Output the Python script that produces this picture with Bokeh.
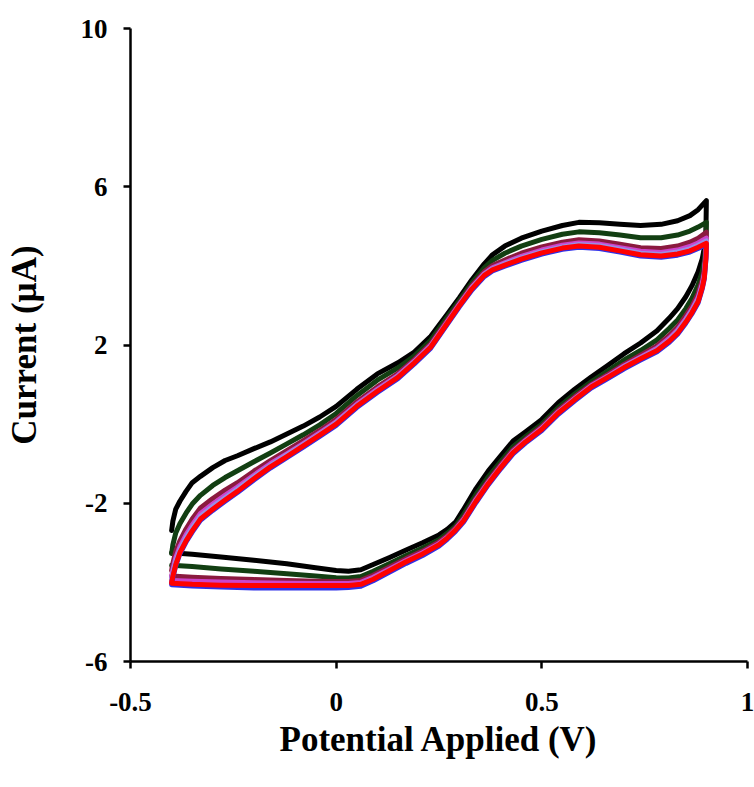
from bokeh.plotting import figure
from bokeh.models import Range1d, FixedTicker
from bokeh.embed import file_html
from bokeh.resources import INLINE

# Potential (V) for the anodic (forward) and cathodic (reverse) sweeps
potential_fwd = [-0.40, -0.397, -0.39, -0.38, -0.365, -0.35, -0.33, -0.30, -0.27, -0.24,
                 -0.20, -0.16, -0.12, -0.08, -0.04, 0.0, 0.05, 0.10, 0.15, 0.19,
                 0.23, 0.27, 0.30, 0.33, 0.36, 0.38, 0.41, 0.45, 0.50, 0.55,
                 0.59, 0.64, 0.69, 0.74, 0.79, 0.83, 0.86, 0.88, 0.90]
potential_rev = [0.90, 0.899, 0.895, 0.89, 0.88, 0.865, 0.85, 0.83, 0.81, 0.78,
                 0.74, 0.70, 0.66, 0.62, 0.58, 0.54, 0.50, 0.46, 0.43, 0.40,
                 0.37, 0.34, 0.31, 0.29, 0.27, 0.25, 0.21, 0.17, 0.13, 0.09,
                 0.06, 0.03, 0.0, -0.05, -0.12, -0.20, -0.28, -0.35, -0.40]

# Current (uA) for each scan
black_fwd = [-2.69, -2.45, -2.15, -1.95, -1.70, -1.48, -1.32, -1.10, -0.92, -0.80,
             -0.62, -0.45, -0.25, -0.05, 0.18, 0.45, 0.88, 1.27, 1.55, 1.82,
             2.22, 2.78, 3.20, 3.65, 4.05, 4.28, 4.50, 4.70, 4.88, 5.02,
             5.10, 5.09, 5.05, 5.02, 5.05, 5.14, 5.27, 5.42, 5.65]
black_rev = [5.65, 4.90, 4.45, 4.18, 3.85, 3.50, 3.22, 2.92, 2.68, 2.36,
             2.05, 1.78, 1.48, 1.19, 0.88, 0.54, 0.12, -0.20, -0.43, -0.80,
             -1.18, -1.63, -2.15, -2.48, -2.66, -2.80, -3.00, -3.18, -3.37, -3.55,
             -3.68, -3.72, -3.70, -3.63, -3.53, -3.44, -3.36, -3.29, -3.25]

green_fwd = [-3.27, -3.05, -2.75, -2.52, -2.25, -2.02, -1.80, -1.55, -1.35, -1.18,
             -0.95, -0.73, -0.50, -0.27, -0.02, 0.27, 0.72, 1.11, 1.42, 1.72,
             2.12, 2.70, 3.13, 3.57, 3.95, 4.14, 4.32, 4.50, 4.67, 4.80,
             4.86, 4.84, 4.78, 4.71, 4.71, 4.78, 4.88, 4.98, 5.10]
green_rev = [5.10, 4.60, 4.12, 3.85, 3.52, 3.18, 2.92, 2.63, 2.42, 2.13,
             1.86, 1.62, 1.34, 1.07, 0.76, 0.42, 0.00, -0.32, -0.57, -0.95,
             -1.33, -1.78, -2.28, -2.58, -2.76, -2.92, -3.13, -3.32, -3.52, -3.72,
             -3.85, -3.89, -3.88, -3.84, -3.78, -3.72, -3.66, -3.60, -3.57]

maroon_fwd = [-3.70, -3.52, -3.22, -2.95, -2.65, -2.40, -2.12, -1.88, -1.67, -1.48,
              -1.19, -0.92, -0.67, -0.42, -0.16, 0.12, 0.56, 0.94, 1.28, 1.63,
              2.03, 2.62, 3.06, 3.50, 3.85, 4.01, 4.15, 4.32, 4.48, 4.60,
              4.66, 4.63, 4.55, 4.46, 4.44, 4.50, 4.60, 4.70, 4.85]
maroon_rev = [4.85, 4.40, 3.90, 3.64, 3.30, 2.98, 2.74, 2.45, 2.24, 1.98,
              1.74, 1.51, 1.25, 1.00, 0.69, 0.35, -0.06, -0.39, -0.65, -1.03,
              -1.43, -1.87, -2.37, -2.63, -2.82, -2.98, -3.21, -3.40, -3.61, -3.82,
              -3.95, -3.98, -3.98, -3.97, -3.95, -3.93, -3.90, -3.87, -3.84]

magenta_fwd = [-3.85, -3.68, -3.38, -3.10, -2.80, -2.55, -2.26, -2.02, -1.80, -1.59,
               -1.29, -1.00, -0.75, -0.49, -0.22, 0.06, 0.50, 0.88, 1.23, 1.59,
               1.99, 2.58, 3.03, 3.46, 3.80, 3.95, 4.08, 4.24, 4.40, 4.52,
               4.58, 4.55, 4.46, 4.37, 4.34, 4.40, 4.49, 4.58, 4.70]
magenta_rev = [4.70, 4.32, 3.80, 3.55, 3.20, 2.90, 2.66, 2.38, 2.17, 1.92,
               1.69, 1.47, 1.21, 0.97, 0.65, 0.31, -0.10, -0.42, -0.69, -1.07,
               -1.47, -1.91, -2.41, -2.66, -2.86, -3.02, -3.25, -3.45, -3.66, -3.87,
               -4.00, -4.03, -4.03, -4.03, -4.02, -4.01, -3.99, -3.97, -3.95]

lavender_fwd = [-3.92, -3.76, -3.46, -3.17, -2.87, -2.62, -2.33, -2.08, -1.86, -1.64,
                -1.33, -1.04, -0.78, -0.52, -0.25, 0.03, 0.47, 0.85, 1.20, 1.57,
                1.97, 2.56, 3.01, 3.44, 3.78, 3.92, 4.05, 4.20, 4.36, 4.48,
                4.54, 4.51, 4.42, 4.32, 4.29, 4.35, 4.43, 4.52, 4.63]
lavender_rev = [4.63, 4.26, 3.75, 3.50, 3.15, 2.86, 2.62, 2.34, 2.13, 1.89,
                1.67, 1.45, 1.19, 0.95, 0.63, 0.29, -0.12, -0.44, -0.71, -1.09,
                -1.49, -1.93, -2.43, -2.68, -2.88, -3.05, -3.28, -3.48, -3.69, -3.91,
                -4.05, -4.08, -4.09, -4.09, -4.09, -4.09, -4.08, -4.06, -4.04]

blue_fwd = [-4.03, -3.88, -3.58, -3.28, -2.98, -2.73, -2.43, -2.18, -1.95, -1.73,
            -1.41, -1.11, -0.85, -0.58, -0.31, -0.03, 0.42, 0.80, 1.15, 1.52,
            1.92, 2.52, 2.97, 3.39, 3.73, 3.87, 3.99, 4.14, 4.30, 4.42,
            4.47, 4.44, 4.35, 4.25, 4.22, 4.27, 4.35, 4.44, 4.54]
blue_rev = [4.54, 4.17, 3.67, 3.42, 3.07, 2.79, 2.55, 2.27, 2.07, 1.83,
            1.62, 1.40, 1.15, 0.91, 0.59, 0.25, -0.16, -0.48, -0.75, -1.13,
            -1.53, -1.98, -2.47, -2.71, -2.91, -3.08, -3.32, -3.52, -3.74, -3.96,
            -4.10, -4.13, -4.14, -4.14, -4.14, -4.14, -4.12, -4.09, -4.06]

red_fwd = [-4.00, -3.85, -3.55, -3.25, -2.95, -2.70, -2.40, -2.15, -1.92, -1.70,
           -1.38, -1.08, -0.82, -0.55, -0.28, 0.00, 0.45, 0.83, 1.18, 1.55,
           1.95, 2.55, 3.00, 3.42, 3.76, 3.90, 4.02, 4.17, 4.33, 4.45,
           4.50, 4.47, 4.38, 4.28, 4.25, 4.30, 4.38, 4.47, 4.57]
red_rev = [4.57, 4.20, 3.70, 3.45, 3.10, 2.82, 2.58, 2.30, 2.10, 1.86,
           1.65, 1.43, 1.18, 0.94, 0.62, 0.28, -0.13, -0.45, -0.72, -1.10,
           -1.50, -1.95, -2.44, -2.68, -2.88, -3.05, -3.28, -3.48, -3.70, -3.92,
           -4.05, -4.08, -4.08, -4.08, -4.08, -4.08, -4.07, -4.05, -4.02]

x_ticks = [-0.5, 0, 0.5, 1]
y_ticks = [-6, -2, 2, 6, 10]

scans = [
    (black_fwd, black_rev, "#000000"),
    (green_fwd, green_rev, "#123F12"),
    (maroon_fwd, maroon_rev, "#8B1A3F"),
    (magenta_fwd, magenta_rev, "#CC44CC"),
    (lavender_fwd, lavender_rev, "#9A8EE6"),
    (blue_fwd, blue_rev, "#3030E8"),
    (red_fwd, red_rev, "#FF0000"),
]

p = figure(width=754, height=787, output_backend="svg", toolbar_location=None,
           x_range=Range1d(-0.5, 1.0), y_range=Range1d(-6, 10),
           min_border_left=130, min_border_right=7, min_border_top=28, min_border_bottom=126)
p.outline_line_color = None
p.xgrid.grid_line_color = None
p.ygrid.grid_line_color = None
p.background_fill_color = "white"
p.border_fill_color = "white"

for fwd, rev, col in scans:
    xs = potential_fwd + potential_rev
    ys = fwd + rev
    p.line(xs, ys, line_color=col, line_width=5, line_join="round", line_cap="round")

font = "Liberation Serif"
for ax in (p.xaxis[0], p.yaxis[0]):
    ax.axis_line_width = 2.5
    ax.axis_line_color = "black"
    ax.major_tick_line_width = 2.5
    ax.major_tick_line_color = "black"
    ax.major_tick_out = 7
    ax.major_tick_in = 0
    ax.minor_tick_line_color = None
    ax.major_label_text_font = font
    ax.major_label_text_font_style = "bold"
    ax.major_label_text_font_size = "27px"
    ax.major_label_text_color = "black"
    ax.axis_label_text_font = font
    ax.axis_label_text_font_style = "bold"
    ax.axis_label_text_font_size = "35px"
    ax.axis_label_text_color = "black"

p.xaxis[0].ticker = FixedTicker(ticks=x_ticks)
p.yaxis[0].ticker = FixedTicker(ticks=y_ticks)
p.xaxis[0].axis_label = "Potential Applied (V)"
p.yaxis[0].axis_label = "Current (µA)"
p.xaxis[0].major_label_standoff = 24
p.xaxis[0].axis_label_standoff = 6
p.yaxis[0].major_label_standoff = 16
p.yaxis[0].axis_label_standoff = 34
p.xaxis[0].major_label_overrides = {-0.5: "-0.5", 0: "0", 0.5: "0.5", 1: "1"}
p.yaxis[0].major_label_overrides = {-6: "-6", -2: "-2", 2: "2", 6: "6", 10: "10"}

open("out.html", "w").write(file_html(p, INLINE))
